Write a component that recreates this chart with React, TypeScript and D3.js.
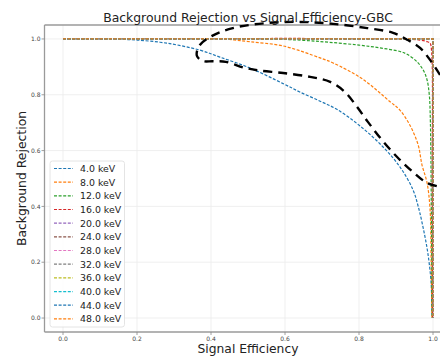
import React from "react";
import * as d3 from "d3";

type Pt = [number, number];

// energies shown in the legend
const energies = [4, 8, 12, 16, 20, 24, 28, 32, 36, 40, 44, 48];

// [signal efficiency, background rejection]
const curve4: Pt[] = [
  [0, 1], [0.1, 1], [0.15, 0.999], [0.2, 0.996], [0.28, 0.985], [0.37, 0.96],
  [0.424, 0.935], [0.505, 0.896], [0.595, 0.84], [0.64, 0.81], [0.695, 0.777],
  [0.74, 0.748], [0.803, 0.688], [0.865, 0.613], [0.911, 0.541], [0.946, 0.459],
  [0.96, 0.4], [0.973, 0.326], [0.986, 0.233], [0.995, 0.125], [0.997, 0.018], [0.998, 0],
];
const curve8: Pt[] = [
  [0, 1], [0.4, 1], [0.45, 0.998], [0.505, 0.99], [0.595, 0.975], [0.695, 0.932],
  [0.73, 0.914], [0.81, 0.856], [0.884, 0.775], [0.91, 0.746], [0.938, 0.69],
  [0.96, 0.62], [0.97, 0.55], [0.984, 0.484], [0.992, 0.39], [0.995, 0.2], [0.997, 0],
];
const curve12: Pt[] = [
  [0, 1], [0.55, 1], [0.65, 0.995], [0.72, 0.988], [0.8, 0.978], [0.857, 0.968],
  [0.911, 0.955], [0.93, 0.945], [0.957, 0.918], [0.975, 0.885], [0.984, 0.853],
  [0.99, 0.8], [0.993, 0.7], [0.996, 0.3], [0.998, 0],
];
const curve16: Pt[] = [
  [0, 1], [0.9, 1], [0.965, 0.996], [0.985, 0.99], [0.992, 0.985], [0.996, 0.96],
  [0.998, 0.5], [0.999, 0],
];
// 20 keV and up are all perfect separations
const curvePerfect: Pt[] = [[0, 1], [1, 1], [1, 0]];

const seriesData: Pt[][] = [
  curve4, curve8, curve12, curve16,
  curvePerfect, curvePerfect, curvePerfect, curvePerfect,
  curvePerfect, curvePerfect, curvePerfect, curvePerfect,
];

const tickValues = [0, 0.2, 0.4, 0.6, 0.8, 1.0];

// hand-drawn black dashed loop on top of the plot (data coords)
const scribble: Pt[] = [
  [1.019, 0.871], [0.992, 0.925], [0.965, 0.968], [0.932, 0.996], [0.892, 1.022],
  [0.822, 1.039], [0.73, 1.054], [0.641, 1.061], [0.551, 1.057], [0.459, 1.039],
  [0.403, 1.011], [0.368, 0.975], [0.362, 0.939], [0.378, 0.921], [0.405, 0.92],
  [0.44, 0.918], [0.49, 0.897], [0.53, 0.887], [0.595, 0.878], [0.668, 0.864],
  [0.722, 0.846], [0.762, 0.81], [0.795, 0.756], [0.824, 0.703], [0.862, 0.638],
  [0.903, 0.577], [0.946, 0.523], [0.984, 0.484], [1.019, 0.47],
];

const colors = d3.schemeCategory10;

const App = () => {
  const width = 440;
  const height = 357;
  const margins = { left: 44.5, right: 451.5, top: 25, bottom: 332 };
  const font = "DejaVu Sans, sans-serif";

  const xScale = d3.scaleLinear().domain([-0.05, 1.05]).range([margins.left, margins.right]);
  const yScale = d3.scaleLinear().domain([-0.05, 1.05]).range([margins.bottom, margins.top]);

  const smooth = d3
    .line<Pt>()
    .x((d) => xScale(d[0]))
    .y((d) => yScale(d[1]))
    .curve(d3.curveCatmullRom.alpha(0.5));
  const straight = d3
    .line<Pt>()
    .x((d) => xScale(d[0]))
    .y((d) => yScale(d[1]));

  const legendTop = 161;
  const rowStep = 13.67;

  return (
    <svg
      width={width}
      height={height}
      style={{ position: "absolute", left: 0, top: 0, background: "#fff" }}
      fontFamily={font}
    >
      {/* grid */}
      <g stroke="#ebebeb" strokeWidth={0.8}>
        {tickValues.map((t) => (
          <line key={"gx" + t} x1={xScale(t)} x2={xScale(t)} y1={margins.top} y2={margins.bottom} />
        ))}
        {tickValues.map((t) => (
          <line key={"gy" + t} x1={margins.left} x2={margins.right} y1={yScale(t)} y2={yScale(t)} />
        ))}
      </g>

      {/* curves */}
      <g fill="none" strokeWidth={1.2} strokeDasharray="3,1.6">
        {seriesData.map((pts, i) => (
          <path
            key={energies[i]}
            d={(pts === curvePerfect ? straight(pts) : smooth(pts)) || ""}
            stroke={colors[i % 10]}
          />
        ))}
      </g>

      {/* spines */}
      <g stroke="#9a9a9a" strokeWidth={1.3} fill="none">
        <line x1={margins.left} x2={margins.left} y1={margins.top} y2={margins.bottom} />
        <line x1={margins.left} x2={width} y1={margins.bottom} y2={margins.bottom} />
        <line x1={margins.left} x2={width} y1={margins.top} y2={margins.top} />
      </g>

      {/* ticks */}
      <g fontSize={6} fill="#444">
        {tickValues.map((t) => (
          <g key={"tx" + t}>
            <line x1={xScale(t)} x2={xScale(t)} y1={margins.bottom} y2={margins.bottom + 3} stroke="#888" strokeWidth={0.8} />
            <text x={xScale(t)} y={margins.bottom + 9} textAnchor="middle">
              {t.toFixed(1)}
            </text>
          </g>
        ))}
        {tickValues.map((t) => (
          <g key={"ty" + t}>
            <line x1={margins.left - 3} x2={margins.left} y1={yScale(t)} y2={yScale(t)} stroke="#888" strokeWidth={0.8} />
            <text x={margins.left - 4} y={yScale(t) + 2.1} textAnchor="end">
              {t.toFixed(1)}
            </text>
          </g>
        ))}
      </g>

      {/* legend */}
      <rect x={50} y={legendTop} width={74.5} height={166} rx={2.5} fill="#fff" fillOpacity={0.85} stroke="#dddddd" strokeWidth={0.8} />
      {energies.map((e, i) => {
        const cy = legendTop + 7.5 + i * rowStep;
        return (
          <g key={"lg" + e}>
            <line x1={54} x2={73} y1={cy} y2={cy} stroke={colors[i % 10]} strokeWidth={1.2} strokeDasharray="3,1.6" />
            <text x={80} y={cy + 3.4} fontSize={9.4} fill="#222">
              {e.toFixed(1)} keV
            </text>
          </g>
        );
      })}

      {/* scribble */}
      <path
        d={smooth(scribble) || ""}
        fill="none"
        stroke="#000"
        strokeWidth={2.4}
        strokeDasharray="9,6"
      />

      {/* labels */}
      <text x={(margins.left + margins.right) / 2} y={21.7} textAnchor="middle" fontSize={12.4} fill="#222">
        Background Rejection vs Signal Efficiency-GBC
      </text>
      <text x={(margins.left + margins.right) / 2} y={352.5} textAnchor="middle" fontSize={12.3} fill="#222">
        Signal Efficiency
      </text>
      <text
        transform={`translate(26, ${(margins.top + margins.bottom) / 2}) rotate(-90)`}
        textAnchor="middle"
        fontSize={12.4}
        fill="#222"
      >
        Background Rejection
      </text>
    </svg>
  );
};

export default App;
